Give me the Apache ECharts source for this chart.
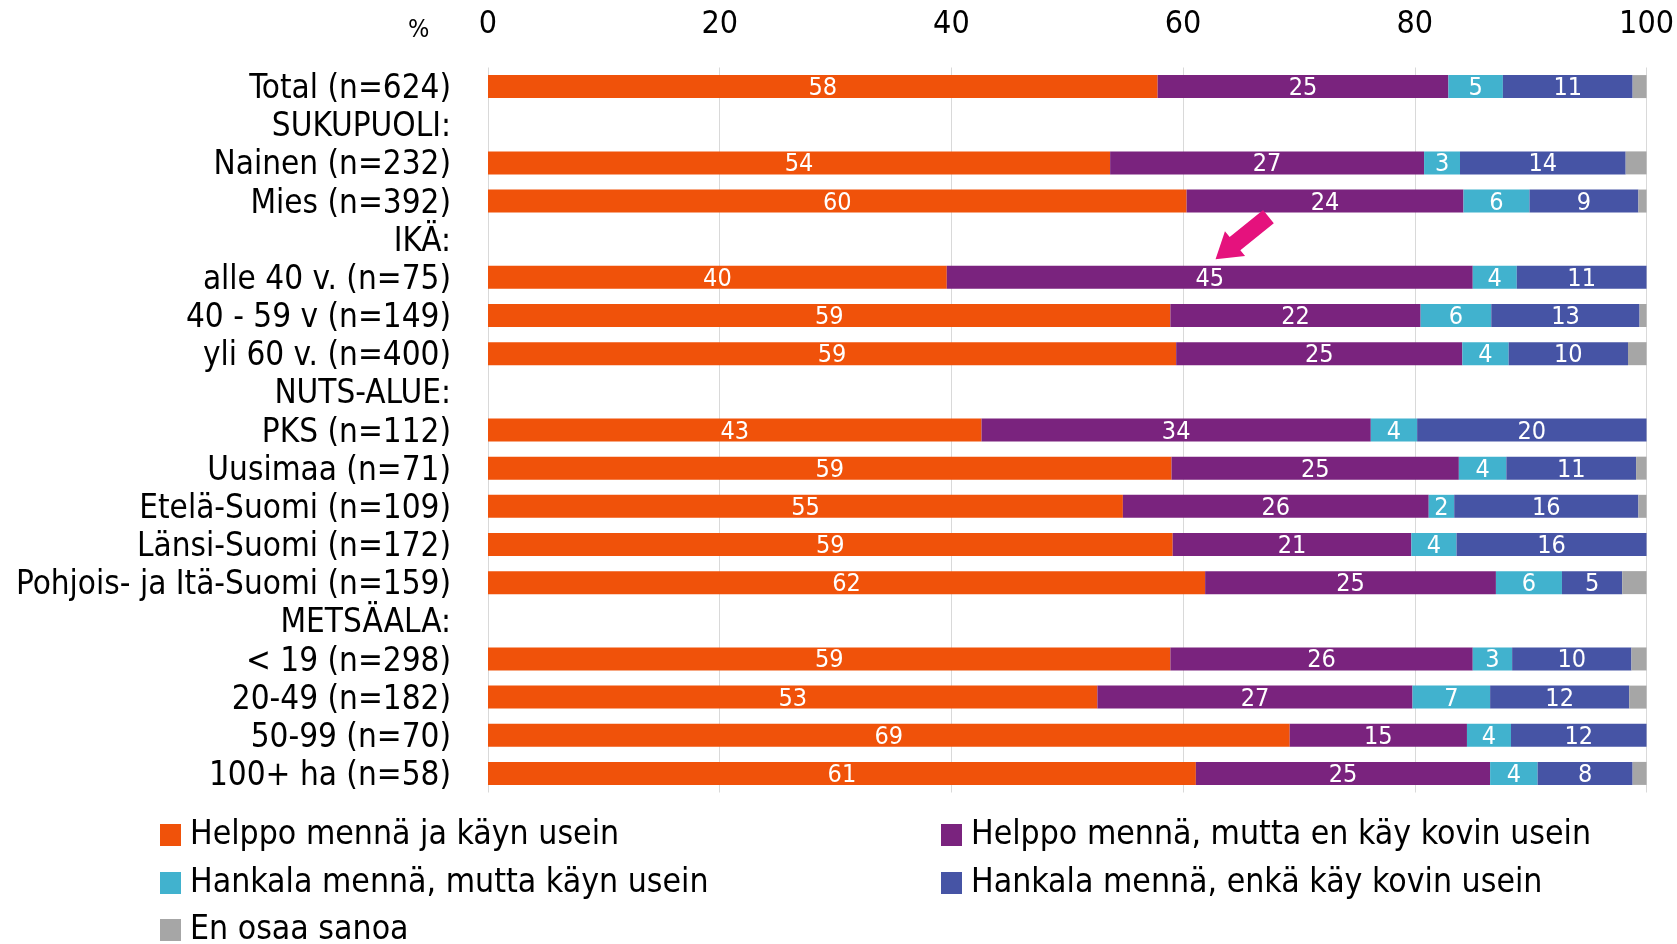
<!DOCTYPE html>
<html>
<head>
<meta charset="utf-8">
<title>chart</title>
<script src="https://cdn.jsdelivr.net/npm/echarts@6/dist/echarts.min.js"></script>
<style>
  html, body { margin: 0; padding: 0; background: #fff; }
  #chart1 { width: 1677px; height: 944px; }
</style>
</head>
<body>
<div id="chart1"></div>
<script>
var categories = ['Total (n=624)', 'SUKUPUOLI:', 'Nainen (n=232)', 'Mies (n=392)', 'IKÄ:',
    'alle 40 v. (n=75)', '40 - 59 v (n=149)', 'yli 60 v. (n=400)', 'NUTS-ALUE:',
    'PKS (n=112)', 'Uusimaa (n=71)', 'Etelä-Suomi (n=109)', 'Länsi-Suomi (n=172)',
    'Pohjois- ja Itä-Suomi (n=159)', 'METSÄALA:', '< 19 (n=298)', '20-49 (n=182)',
    '50-99 (n=70)', '100+ ha (n=58)'];

var seriesNames = ['Helppo mennä ja käyn usein', 'Helppo mennä, mutta en käy kovin usein',
    'Hankala mennä, mutta käyn usein', 'Hankala mennä, enkä käy kovin usein', 'En osaa sanoa'];

// '-' = otsikkorivi, ei palkkia
var helppoUsein   = [57.8, '-', 53.7, 60.3, '-', 39.6, 58.9, 59.4, '-', 42.6, 59.0, 54.8, 59.1, 61.9, '-', 58.9, 52.6, 69.2, 61.1];
var helppoHarvoin = [25.1, '-', 27.1, 23.9, '-', 45.4, 21.6, 24.7, '-', 33.6, 24.8, 26.4, 20.6, 25.1, '-', 26.1, 27.2, 15.3, 25.4];
var hankalaUsein  = [4.7, '-', 3.1, 5.7, '-', 3.8, 6.1, 4.0, '-', 4.0, 4.1, 2.2, 3.9, 5.7, '-', 3.4, 6.7, 3.8, 4.1];
var hankalaHarvoin = [11.2, '-', 14.3, 9.4, '-', 11.2, 12.8, 10.3, '-', 19.8, 11.2, 15.9, 16.4, 5.2, '-', 10.3, 12.0, 11.7, 8.2];
var eiOsaa        = [1.2, '-', 1.8, 0.7, '-', 0, 0.6, 1.6, '-', 0, 0.9, 0.7, 0, 2.1, '-', 1.3, 1.5, 0, 1.2];

var xTicks = [0, 20, 40, 60, 80, 100];
var colors = ['#F0520A', '#7A237E', '#41B2CE', '#4654A5', '#A6A6A6'];

var fontName = "'DejaVu Sans Condensed', 'Noto Sans', sans-serif";

var myChart1 = echarts.init(document.getElementById('chart1'));

var values = [helppoUsein, helppoHarvoin, hankalaUsein, hankalaHarvoin, eiOsaa];
var series = values.map(function (d, i) {
    return {
        name: seriesNames[i],
        type: 'bar',
        stack: 'total',
        barWidth: 23,
        data: d,
        itemStyle: { color: colors[i] },
        label: {
            show: i < 4,
            position: 'inside',
            color: '#fff',
            fontFamily: fontName,
            fontSize: 25,
            offset: [0, 2],
            formatter: function (p) { return Math.round(p.value); }
        }
    };
});

var legendPos = [[160, 818], [941, 818], [160, 866], [941, 866], [160, 913]];
var legends = seriesNames.map(function (n, i) {
    return {
        data: [n],
        left: legendPos[i][0],
        top: legendPos[i][1],
        padding: 0,
        icon: 'rect',
        itemWidth: 21,
        itemHeight: 22,
        itemGap: 0,
        selectedMode: false,
        textStyle: { fontFamily: fontName, fontSize: 33.5, color: '#000', padding: [0, 0, 0, 4] }
    };
});

myChart1.setOption({
    animation: false,
    textStyle: { fontFamily: fontName },
    legend: legends,
    grid: { left: 488, right: 29, top: 67.5, bottom: 151.5, containLabel: false },
    xAxis: {
        type: 'value',
        position: 'top',
        min: 0,
        max: 100,
        interval: 20,
        axisLine: { show: false },
        axisTick: { show: false },
        splitLine: { show: true, lineStyle: { color: '#D9D9D9', width: 1 } },
        axisLabel: {
            margin: 27,
            fontSize: 32,
            color: '#000',
            fontFamily: fontName,
            formatter: function (v) { return xTicks.indexOf(v) >= 0 ? String(v) : ''; }
        }
    },
    yAxis: {
        type: 'category',
        inverse: true,
        data: categories,
        axisLine: { show: false },
        axisTick: { show: false },
        axisLabel: {
            interval: 0,
            margin: 37,
            formatter: function (v) { return '{c|' + v + '}'; },
            rich: {
                c: { fontSize: 33, color: '#000', fontFamily: fontName, padding: [6, 0, 0, 0] }
            }
        }
    },
    series: series
});

// nuoli: osoittaa alle 40 v. ryhmän arvoon 45
var tip = myChart1.convertToPixel({ gridIndex: 0 }, [62.8, 'alle 40 v. (n=75)']);
tip[1] = tip[1] - 18;
var ux = 0.778, uy = -0.629, px = 0.629, py = 0.778;
function pt(a, b) { return [tip[0] + ux * a + px * b, tip[1] + uy * a + py * b]; }
var arrowPts = [pt(0, 0), pt(25, 16), pt(25, 8.5), pt(68, 8.5), pt(68, -8.5), pt(25, -8.5), pt(25, -16)];

myChart1.setOption({
    graphic: [
        { type: 'polygon', shape: { points: arrowPts }, style: { fill: '#E5127D' }, z: 100 },
        { type: 'text', left: 408, top: 18, style: { text: '%', fontSize: 25, fill: '#000', fontFamily: fontName } }
    ]
});
</script>
</body>
</html>
